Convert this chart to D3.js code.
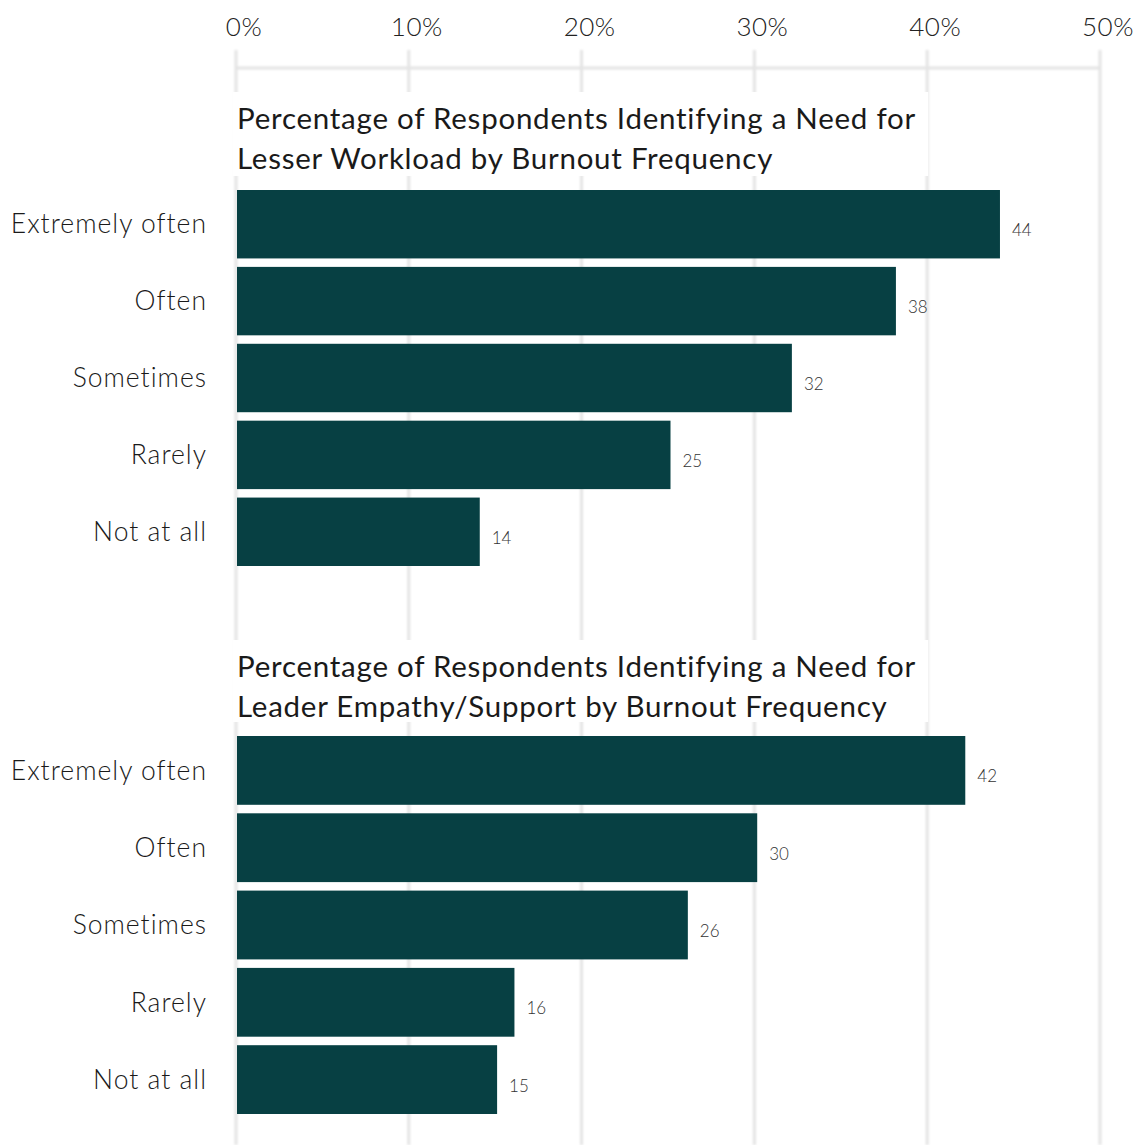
<!DOCTYPE html>
<html>
<head>
<meta charset="utf-8">
<script src="https://cdn.jsdelivr.net/npm/d3@7"></script>
<style>
  html, body { margin: 0; padding: 0; background: #ffffff; }
  svg { display: block; }
  text { font-family: Lato, "Open Sans", sans-serif; }
</style>
</head>
<body>
<svg id="chart" width="1134" height="1145"></svg>
<script>
// Burnout frequency categories, shared by both panels
const categories = ["Extremely often", "Often", "Sometimes", "Rarely", "Not at all"];

// Percent of respondents identifying each need
const workloadValues = [44, 38, 32, 25, 14];
const empathyValues = [42, 30, 26, 16, 15];

// Panel titles (two lines each)
const workloadTitle = ["Percentage of Respondents Identifying a Need for",
                       "Lesser Workload by Burnout Frequency"];
const empathyTitle = ["Percentage of Respondents Identifying a Need for",
                      "Leader Empathy/Support by Burnout Frequency"];

// Axis ticks
const tickValues = [0, 10, 20, 30, 40, 50];
const tickLabels = ["0%", "10%", "20%", "30%", "40%", "50%"];

const W = 1134, H = 1145;
const barColor = "#074043";
const gridColor = "#e4e4e4";

const svg = d3.select("#chart");

const defs = svg.append("defs");
defs.append("filter").attr("id", "soft")
  .attr("x", "-50%").attr("y", "-5%").attr("width", "200%").attr("height", "110%")
  .append("feGaussianBlur").attr("stdDeviation", 0.9);

const x = d3.scaleLinear().domain([0, 50]).range([237, 1104]);
const gx = d3.scaleLinear().domain([0, 50]).range([236, 1100]);

// Gridlines and top axis
const grid = svg.append("g").attr("filter", "url(#soft)");
grid.selectAll("line.grid")
  .data(tickValues)
  .join("line")
  .attr("class", "grid")
  .attr("x1", d => gx(d)).attr("x2", d => gx(d))
  .attr("y1", 50).attr("y2", H)
  .attr("stroke", gridColor).attr("stroke-width", 3);
grid.append("line")
  .attr("x1", gx(0)).attr("x2", gx(50))
  .attr("y1", 68).attr("y2", 68)
  .attr("stroke", gridColor).attr("stroke-width", 3);

svg.append("g")
  .selectAll("text")
  .data(tickValues)
  .join("text")
  .attr("x", d => gx(d) + 8)
  .attr("y", 36)
  .attr("text-anchor", "middle")
  .attr("fill", "#222")
  .attr("font-size", 26)
  .attr("font-weight", 300)
  .attr("letter-spacing", 0.5)
  .text((d, i) => tickLabels[i]);

function panel(title, values, titleTop, barTop, barBottom) {
  const g = svg.append("g");

  // white backing behind the title hides the gridlines
  g.append("rect")
    .attr("x", gx(0) - 3).attr("y", titleTop)
    .attr("width", gx(40) - gx(0) + 4)
    .attr("height", barTop - titleTop - 14)
    .attr("fill", "#fff");

  g.append("text")
    .attr("x", 237)
    .attr("fill", "#1a1a1a")
    .attr("font-size", 29.5)
    .attr("letter-spacing", 0.75)
    .selectAll("tspan")
    .data(title)
    .join("tspan")
    .attr("x", 237)
    .attr("y", (d, i) => titleTop + 37 + i * 40)
    .text(d => d);

  const y = d3.scaleBand()
    .domain(categories)
    .range([barTop, barBottom])
    .paddingInner(0.11);

  const rows = values.map((v, i) => ({ cat: categories[i], value: v }));

  g.selectAll("rect.bar")
    .data(rows)
    .join("rect")
    .attr("class", "bar")
    .attr("x", x(0))
    .attr("y", d => y(d.cat))
    .attr("width", d => x(d.value) - x(0))
    .attr("height", y.bandwidth())
    .attr("fill", barColor);

  g.selectAll("text.cat")
    .data(rows)
    .join("text")
    .attr("class", "cat")
    .attr("x", 207)
    .attr("y", d => y(d.cat) + y.bandwidth() / 2)
    .attr("dy", "0.35em")
    .attr("text-anchor", "end")
    .attr("fill", "#1a1a1a")
    .attr("font-size", 26.5)
    .attr("font-weight", 300)
    .attr("letter-spacing", 1)
    .text(d => d.cat);

  g.selectAll("text.val")
    .data(rows)
    .join("text")
    .attr("class", "val")
    .attr("x", d => x(d.value) + 12)
    .attr("y", d => y(d.cat) + y.bandwidth() / 2)
    .attr("dy", "0.7em")
    .attr("fill", "#333")
    .attr("font-size", 17)
    .attr("font-weight", 300)
    .text(d => d.value);
}

panel(workloadTitle, workloadValues, 92, 190, 566);
panel(empathyTitle, empathyValues, 640, 736, 1114);
</script>
</body>
</html>
